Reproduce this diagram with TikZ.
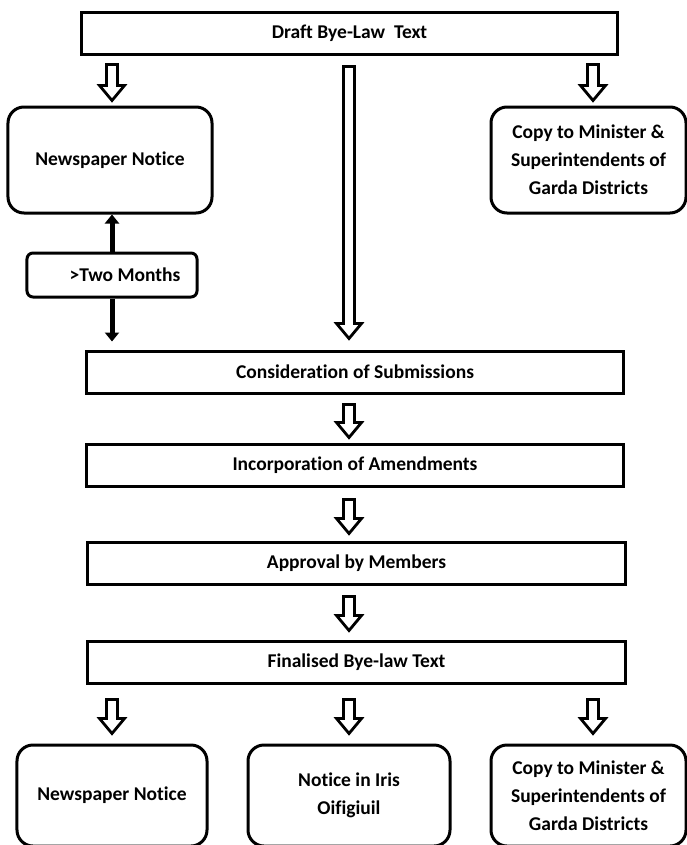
\documentclass[tikz,border=0pt]{standalone}
\usepackage{fontspec}
\setmainfont{Carlito}[Ligatures=NoCommon]
\usetikzlibrary{arrows.meta,calc}
\tikzset{
  sqbox/.style={draw=black, line width=3bp, inner sep=0pt, align=center},
  rbox/.style={draw=black, line width=3bp, rounded corners=16bp, inner sep=0pt, align=center},
  smallrbox/.style={draw=black, line width=3bp, rounded corners=6bp, inner sep=0pt, align=center},
  hollow/.style={draw=black, fill=white, line width=2.8bp, line join=miter},
  solidarrow/.style={draw=black, line width=5bp, -{Triangle[width=14bp,length=9bp]}},
}
% #1 x position, #2 from node, #3 to node, #4 start gap, #5 end gap
\newcommand\hollowarrow[5]{%
  \draw[hollow] let \p1=([yshift=-#4bp]#2.south), \p2=([yshift=#5bp]#3.north) in
    (#1bp-5.5bp,\y1) -- (#1bp+5.5bp,\y1) -- (#1bp+5.5bp,\y2+15bp) --
    (#1bp+12.5bp,\y2+15bp) -- (#1bp,\y2) -- (#1bp-12.5bp,\y2+15bp) --
    (#1bp-5.5bp,\y2+15bp) -- cycle;}
\begin{document}
\begin{tikzpicture}[x=1bp,y=-1bp,font=\fontsize{19.5bp}{28bp}\selectfont\bfseries]
\useasboundingbox (0,0) rectangle (687,845);

\node[sqbox, minimum width=535bp, minimum height=41bp] (top) at (349.5,33.5) {Draft Bye-Law\ \ Text};

\node[rbox, minimum width=204bp, minimum height=106bp] (nn1) at (110,160) {Newspaper Notice};
\node[rbox, minimum width=195bp, minimum height=106bp] (cp1) at (588.5,160) {Copy to Minister \&\\Superintendents of\\Garda Districts};

\node[smallrbox, minimum width=170bp, minimum height=44bp] (tm) at (112,275) {\hspace*{26bp}>Two Months};

\node[sqbox, minimum width=536bp, minimum height=42bp] (cons) at (355,372) {Consideration of Submissions};
\node[sqbox, minimum width=536bp, minimum height=42bp] (inc) at (355,465) {Incorporation of Amendments};
\node[sqbox, minimum width=537bp, minimum height=42bp] (appr) at (356.5,563) {Approval by Members};
\node[sqbox, minimum width=537bp, minimum height=42bp] (fin) at (356.5,662) {Finalised Bye-law Text};

\node[rbox, minimum width=190bp, minimum height=101bp] (nn2) at (112,795.5) {Newspaper Notice};
\node[rbox, minimum width=202bp, minimum height=101bp] (iris) at (349,795.5) {Notice in Iris\\Oifigiuil};
\node[rbox, minimum width=195bp, minimum height=101bp] (cp2) at (588.5,795.5) {Copy to Minister \&\\Superintendents of\\Garda Districts};

% hollow block arrows
\hollowarrow{112}{top}{nn1}{9}{5}
\hollowarrow{349}{top}{cons}{11}{11}
\hollowarrow{593}{top}{cp1}{9}{5}
\hollowarrow{349}{cons}{inc}{10}{5}
\hollowarrow{349}{inc}{appr}{12}{7}
\hollowarrow{349}{appr}{fin}{11}{9}
\hollowarrow{112}{fin}{nn2}{15}{10}
\hollowarrow{349}{fin}{iris}{15}{10}
\hollowarrow{593}{fin}{cp2}{15}{10}

% two-months arrows
\draw[solidarrow] (tm.north) -- (tm.north |- nn1.south);
\draw[solidarrow] (tm.south) -- ($(tm.south |- cons.north)+(0,-8)$);
\end{tikzpicture}
\end{document}
